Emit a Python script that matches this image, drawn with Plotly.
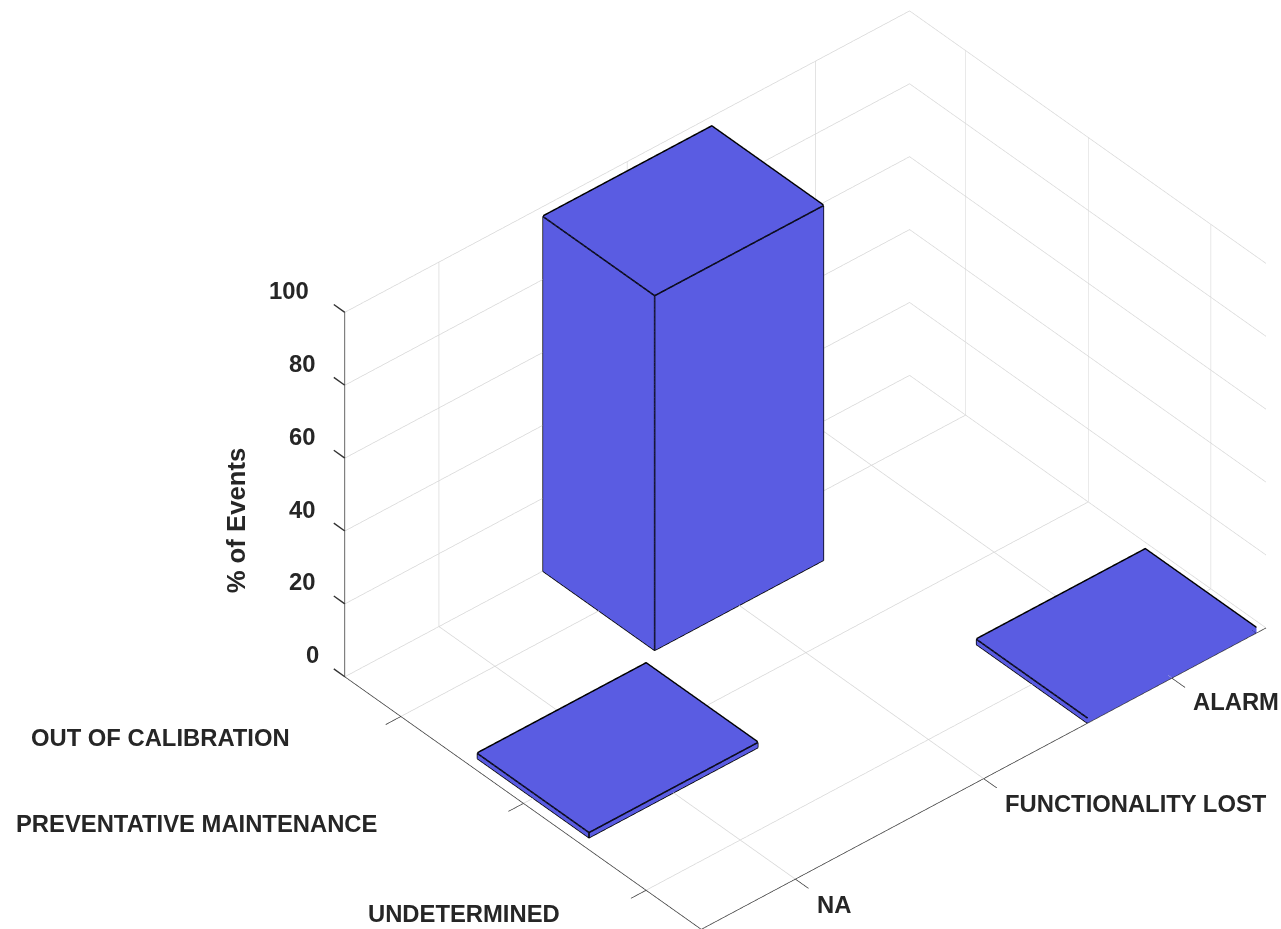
import plotly.graph_objects as go

x_labels = ["NA", "FUNCTIONALITY LOST", "ALARM"]
y_labels = ["OUT OF CALIBRATION", "PREVENTATIVE MAINTENANCE", "UNDETERMINED"]
z_ticks = [0, 20, 40, 60, 80, 100]
bar_x = [2, 1, 3]
bar_y = [1, 2, 3]
bar_values = [97.3, 1.4, 1.4]

BAR = "#5A5CE2"
FONT = "Liberation Sans"
WX, WY = 0.448, 0.455
EDGE_LIFT = 0.3
XR = [0.5, 3.5]
YR = [3.45, 0.543]

fig = go.Figure()
for cx, cy, v in zip(bar_x, bar_y, bar_values):
    xs = [cx - WX, cx + WX, cx + WX, cx - WX] * 2
    ys = [cy - WY, cy - WY, cy + WY, cy + WY] * 2
    zs = [0] * 4 + [v] * 4
    fig.add_trace(go.Mesh3d(
        x=xs, y=ys, z=zs,
        i=[0, 0, 4, 4, 0, 0, 1, 1, 2, 2, 3, 3],
        j=[1, 2, 5, 6, 1, 5, 2, 6, 3, 7, 0, 4],
        k=[2, 3, 6, 7, 5, 4, 6, 5, 7, 6, 4, 7],
        color=BAR, flatshading=True, opacity=1, hoverinfo="skip",
        lighting=dict(ambient=1, diffuse=0, specular=0, roughness=1, fresnel=0),
    ))
    order = [0, 1, 2, 3, 0, 4, 5, 6, 7, 4, None, 1, 5, None, 2, 6, None, 3, 7]
    fig.add_trace(go.Scatter3d(
        x=[None if o is None else xs[o] for o in order],
        y=[None if o is None else ys[o] for o in order],
        z=[None if o is None else zs[o] for o in order],
        mode="lines", line=dict(color="black", width=3), hoverinfo="skip",
    ))
    # far edges of the top face: lifted a hair so the face does not hide them
    back = [4, 5, 6]
    fig.add_trace(go.Scatter3d(
        x=[xs[o] for o in back], y=[ys[o] for o in back],
        z=[zs[o] + EDGE_LIFT for o in back],
        mode="lines", line=dict(color="black", width=2), hoverinfo="skip",
    ))

def axis(**kw):
    base = dict(
        showgrid=True, gridcolor="#d4d4d4", gridwidth=1.5,
        showline=True, linecolor="#333333", linewidth=1.6,
        ticks="outside", ticklen=20, tickcolor="#333333", tickwidth=1.6,
        showticklabels=False, showbackground=False, zeroline=False,
        showspikes=False, title=dict(text=""),
    )
    base.update(kw)
    return base

lab = dict(font=dict(family=FONT, size=23.8, color="#262626"), showarrow=False)
ann = []
z_dx = {0: -24, 20: -28, 40: -28, 60: -28, 80: -28, 100: -34}
for t in z_ticks:
    ann.append(dict(x=XR[0], y=YR[1], z=t, text=f"<b>{t}</b>", xanchor="right",
                    xshift=z_dx[t], yshift=22, **lab))
    ann.append(dict(x=XR[0], y=YR[1], z=t, text=" ", showarrow=True, arrowhead=0,
                    arrowwidth=1.4, arrowcolor="#333333", ax=-14, ay=-10, standoff=0))
ann.append(dict(x=XR[0], y=YR[1], z=50, text="<b>% of Events</b>", textangle=-90,
                xshift=-109, yshift=-26,
                font=dict(family=FONT, size=25.7, color="#262626"), showarrow=False))
x_off = [(39, -25), (152, -25), (64, -23)]
for i, (name, (dx, dy)) in enumerate(zip(x_labels, x_off)):
    ann.append(dict(x=i + 1, y=YR[0], z=0, text=f"<b>{name}</b>", xshift=dx, yshift=dy, **lab))
y_off = [(-240, -21), (-327, -20), (-182, -23)]
for i, (name, (dx, dy)) in enumerate(zip(y_labels, y_off)):
    ann.append(dict(x=XR[0], y=i + 1, z=0, text=f"<b>{name}</b>", xshift=dx, yshift=dy, **lab))

cen = dict(x=-0.2682, y=0.2327, z=0.0154)
direction = dict(x=-0.5169 * 2, y=-0.5956 * 2, z=0.615 * 2)

fig.update_layout(
    width=1281, height=929, margin=dict(l=0, r=0, t=0, b=0),
    paper_bgcolor="white", showlegend=False,
    scene=dict(
        domain=dict(x=[0, 1], y=[0, 1]),
        xaxis=axis(range=XR, tickvals=[1, 2, 3]),
        yaxis=axis(range=YR, tickvals=[1, 2, 3]),
        zaxis=axis(range=[0, 100], tickvals=z_ticks, ticks=""),
        aspectmode="manual", aspectratio=dict(x=1.61, y=1.1708, z=0.995),
        camera=dict(
            projection=dict(type="orthographic"),
            eye={k: direction[k] + cen[k] for k in cen},
            center=cen, up=dict(x=0, y=0, z=1),
        ),
        annotations=ann,
    ),
)
fig.write_html(
    "out.html",
    config={"displayModeBar": False},
    post_script="document.documentElement.style.overflow='hidden';document.body.style.margin='0';",
)
